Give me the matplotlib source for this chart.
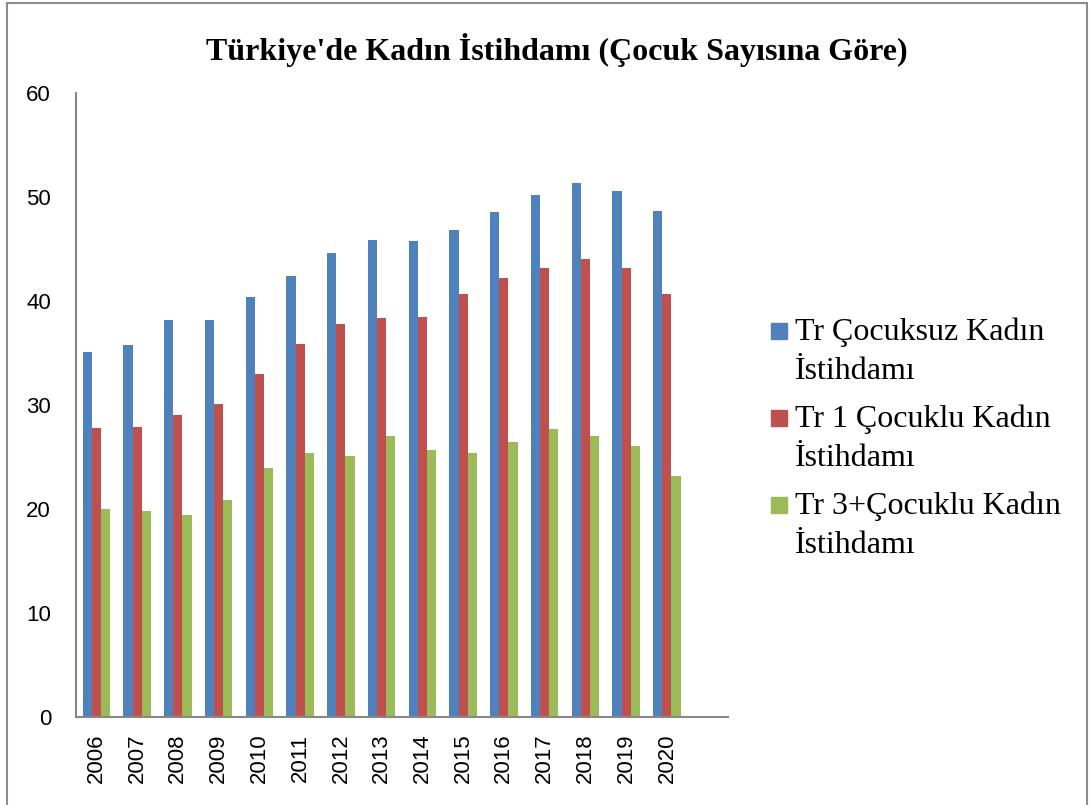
import matplotlib
matplotlib.use("Agg")
from matplotlib import pyplot as plt
from matplotlib.patches import Rectangle
import numpy as np

# data
years = ['2006', '2007', '2008', '2009', '2010', '2011', '2012', '2013',
         '2014', '2015', '2016', '2017', '2018', '2019', '2020']
cocuksuz = [35.1, 35.8, 38.2, 38.2, 40.4, 42.4, 44.6, 45.9,
            45.8, 46.8, 48.6, 50.2, 51.3, 50.6, 48.7]
bir_cocuklu = [27.8, 27.9, 29.0, 30.1, 33.0, 35.9, 37.8, 38.4,
               38.5, 40.7, 42.2, 43.2, 44.0, 43.2, 40.7]
uc_cocuklu = [20.0, 19.8, 19.4, 20.9, 23.9, 25.4, 25.1, 27.0,
              25.7, 25.4, 26.4, 27.7, 27.0, 26.1, 23.2]

labels = ['Tr Çocuksuz Kadın\nİstihdamı',
          'Tr 1 Çocuklu Kadın\nİstihdamı',
          'Tr 3+Çocuklu Kadın\nİstihdamı']
colors = ['#4F81BD', '#C0504D', '#9BBB59']

W, H = 1091, 805
fig = plt.figure(figsize=(W / 100, H / 100), dpi=100)
ax = fig.add_axes([76/W, 1 - 717/H, (728 - 76)/W, (717 - 93)/H])

x = np.arange(len(years))
w = 0.225
for k, (vals, c) in enumerate(zip([cocuksuz, bir_cocuklu, uc_cocuklu], colors)):
    ax.bar(x + (k - 1) * w, vals, w, color=c)

ax.set_xlim(-0.5, 15.5)
ax.set_ylim(0, 60)
ax.set_yticks(range(0, 61, 10))
ax.set_xticks(x)
ax.set_xticklabels(years, rotation=90)
ax.tick_params(length=0, labelsize=16)
ax.tick_params(axis='x', pad=12)
ax.tick_params(axis='y', pad=18)
for lab in ax.get_xticklabels() + ax.get_yticklabels():
    lab.set_family('Liberation Sans')
for s in ['top', 'right']:
    ax.spines[s].set_visible(False)
for s in ['left', 'bottom']:
    ax.spines[s].set_color('#888888')
    ax.spines[s].set_linewidth(1.5)

fig.text(557/W, 1 - 50/H, "Türkiye'de Kadın İstihdamı (Çocuk Sayısına Göre)",
         ha='center', va='center', fontsize=23, fontweight='bold',
         family='Liberation Serif')

# legend: square marker next to the first line of each two-line label
for k, (lab, c) in enumerate(zip(labels, colors)):
    base = 340 + k * 87
    fig.patches.append(Rectangle((771/W, 1 - (base - 1)/H), 16/W, 16/H,
                                 transform=fig.transFigure, color=c))
    fig.text(795/W, 1 - (base + 39)/H, lab, ha='left', va='baseline',
             fontsize=23, family='Liberation Serif', linespacing=1.45)

# outer chart border
fig.patches.append(Rectangle((7/W, -0.01), 1080/W, 1 - 3/H + 0.01,
                             transform=fig.transFigure, fill=False,
                             edgecolor='#8c8c8c', linewidth=1.5))

fig.savefig('out.png', dpi=100)
